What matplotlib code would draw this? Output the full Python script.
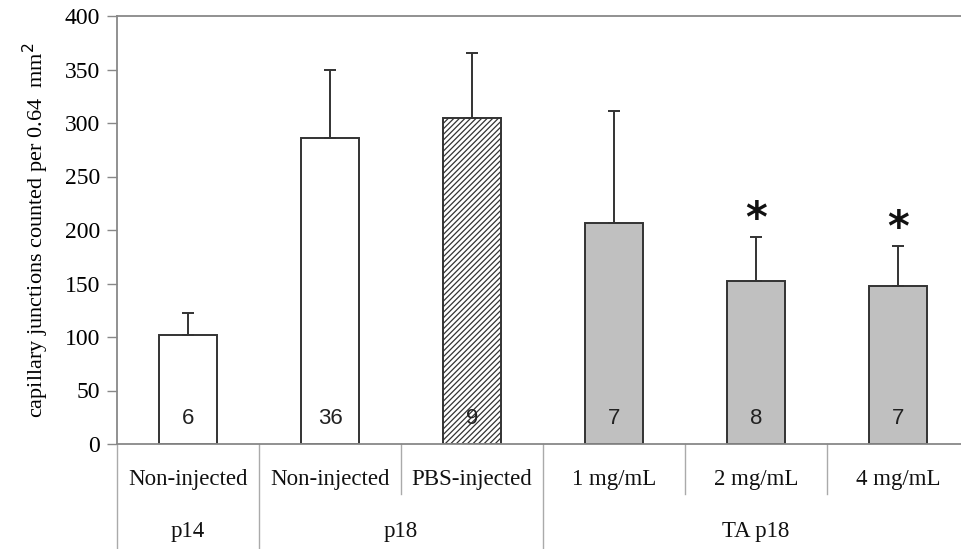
import matplotlib
matplotlib.use("Agg")
from matplotlib import pyplot as plt
import numpy as np

# data
groups = ['Non-injected', 'Non-injected', 'PBS-injected', '1 mg/mL', '2 mg/mL', '4 mg/mL']
ages = ['p14', 'p18', 'TA p18']
age_span = [(0, 0), (1, 2), (3, 5)]
means = [102, 286, 305, 207, 152, 148]
upper = [122, 350, 365, 311, 193, 185]
n_counts = ['6', '36', '9', '7', '8', '7']
star = [False, False, False, False, True, True]

colors = ['white', 'white', 'white', '#c0c0c0', '#c0c0c0', '#c0c0c0']
hatches = ['', '', '//////', '', '', '']

plt.rcParams['hatch.color'] = '#c2c2c2'
plt.rcParams['hatch.linewidth'] = 0.9

fig = plt.figure(figsize=(9.61, 5.49), dpi=100)
ax = fig.add_axes([117/961, 1 - 444/549, 852/961, 428/549])

x = np.arange(len(means))
err = [np.zeros(len(means)), np.array(upper) - np.array(means)]
ax.bar(x, means, width=0.41, color=colors, edgecolor='#333333', linewidth=1.4,
       hatch=hatches, yerr=err, capsize=4,
       error_kw=dict(ecolor='#333333', elinewidth=1.4, capthick=1.4), zorder=2)

for i, n in enumerate(n_counts):
    ax.text(x[i], 24, n, ha='center', va='center', fontsize=16,
            family='Liberation Sans', color='#222222', zorder=3)
    if star[i]:
        ax.text(x[i], upper[i] + 16, '*', ha='center', va='center', fontsize=30,
                fontweight='bold', family='DejaVu Sans', color='#111111')

ax.set_xlim(-0.5, 5.5)
ax.set_ylim(0, 400)
ax.set_yticks(np.arange(0, 401, 50))
ax.set_xticks([])
ax.tick_params(axis='y', direction='out', length=7, color='#888888', width=1,
               labelsize=17, pad=5)
for lab in ax.get_yticklabels():
    lab.set_family('Liberation Serif')
ax.spines['right'].set_visible(False)
for s in ['left', 'top', 'bottom']:
    ax.spines[s].set_color('#888888')
    ax.spines[s].set_linewidth(1.3)

ax.set_ylabel('capillary junctions counted per 0.64  mm$^2$', family='Liberation Serif',
              fontsize=16, labelpad=10)

# table below the axis
tr = ax.get_xaxis_transform()
bottom = -105/428
row_sep = -50/428
line_kw = dict(color='#aaaaaa', lw=1.0, clip_on=False, transform=tr)
ax.plot([-0.5, -0.5], [0, bottom], **line_kw)
full_breaks = [0.5, 2.5]
for b in np.arange(0.5, 5.5, 1.0):
    if b in full_breaks:
        ax.plot([b, b], [0, bottom], **line_kw)
    else:
        ax.plot([b, b], [0, row_sep], **line_kw)

for i, g in enumerate(groups):
    ax.text(x[i], -36/428, g, transform=tr, ha='center', va='center',
            family='Liberation Serif', fontsize=16.5, color='#111111')
for a, (s, e) in zip(ages, age_span):
    ax.text((s + e) / 2, -88/428, a, transform=tr, ha='center', va='center',
            family='Liberation Serif', fontsize=16.5, color='#111111')

fig.savefig('out.png', dpi=100)
